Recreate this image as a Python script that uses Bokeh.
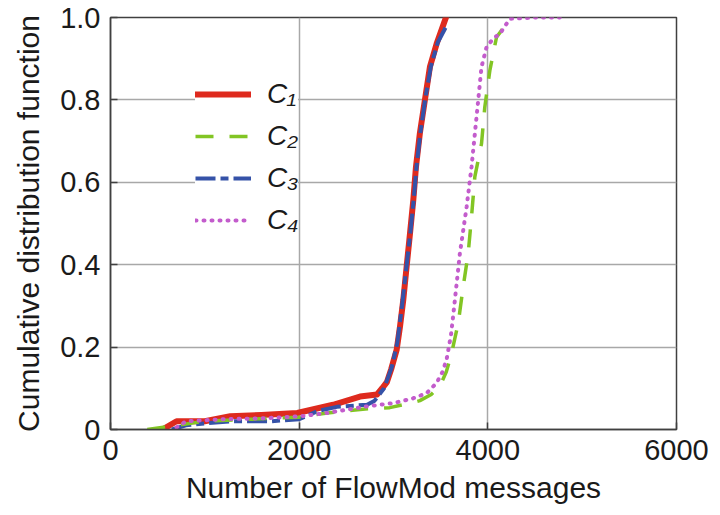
from bokeh.plotting import figure
from bokeh.models import FixedTicker, Range1d, Legend, LegendItem
from bokeh.embed import file_html
from bokeh.resources import INLINE

# ---- data ----
c1_x = [550, 700, 1000, 1270, 1600, 1980, 2360, 2645, 2825, 2880, 2930, 2975, 3034, 3069, 3104, 3139, 3175, 3210, 3238, 3280, 3333, 3386, 3457, 3556]
c1_y = [0.0, 0.02, 0.02, 0.032, 0.035, 0.04, 0.06, 0.08, 0.085, 0.10, 0.115, 0.146, 0.194, 0.25, 0.315, 0.395, 0.476, 0.557, 0.637, 0.72, 0.80, 0.88, 0.936, 1.0]

c2_x = [390, 700, 1000, 1500, 2000, 2300, 2700, 2960, 3200, 3280, 3400, 3492, 3560, 3616, 3686, 3739, 3792, 3827, 3862, 3933, 3968, 4021, 4092, 4150, 4233]
c2_y = [0.0, 0.01, 0.02, 0.025, 0.03, 0.04, 0.05, 0.053, 0.065, 0.07, 0.085, 0.105, 0.14, 0.185, 0.258, 0.347, 0.428, 0.516, 0.613, 0.694, 0.783, 0.871, 0.952, 0.97, 1.0]

c3_x = [650, 800, 1000, 1300, 1700, 2000, 2200, 2400, 2720, 2800, 2900, 2980, 3040, 3090, 3140, 3180, 3215, 3245, 3285, 3335, 3395, 3470, 3563]
c3_y = [0.0, 0.01, 0.015, 0.02, 0.02, 0.025, 0.045, 0.055, 0.06, 0.07, 0.10, 0.15, 0.21, 0.30, 0.40, 0.48, 0.56, 0.64, 0.72, 0.80, 0.88, 0.94, 0.98]

c4_x = [700, 800, 1200, 1600, 2011, 2293, 2500, 2716, 2998, 3200, 3351, 3457, 3520, 3563, 3610, 3651, 3704, 3775, 3827, 3880, 3933, 3986, 4060, 4127, 4233, 4500, 4762]
c4_y = [0.005, 0.02, 0.025, 0.027, 0.032, 0.04, 0.048, 0.056, 0.064, 0.075, 0.088, 0.113, 0.14, 0.17, 0.23, 0.315, 0.428, 0.54, 0.637, 0.758, 0.88, 0.928, 0.95, 0.96, 0.997, 1.0, 1.0]

series_names = ["C\u2081", "C\u2082", "C\u2083", "C\u2084"]

x_ticks = [0, 2000, 4000, 6000]
y_ticks = [0, 0.2, 0.4, 0.6, 0.8, 1.0]
y_tick_labels = ["0", "0.2", "0.4", "0.6", "0.8", "1.0"]

FONT = "Liberation Sans"
TXT = "#1a1a1a"

p = figure(width=720, height=515, output_backend="svg", toolbar_location=None,
           x_range=Range1d(0, 6000), y_range=Range1d(0, 1.0))
p.min_border_left = 110
p.min_border_right = 44
p.min_border_top = 17
p.min_border_bottom = 86
p.background_fill_color = "white"
p.border_fill_color = "white"
p.outline_line_color = "#404040"
p.outline_line_width = 1.5

# grid
for g in (p.xgrid[0], p.ygrid[0]):
    g.grid_line_color = "#a8a8a8"
    g.grid_line_width = 1.5
p.xgrid[0].ticker = FixedTicker(ticks=x_ticks)
p.ygrid[0].ticker = FixedTicker(ticks=y_ticks)

# axes
p.xaxis.ticker = FixedTicker(ticks=x_ticks)
p.yaxis.ticker = FixedTicker(ticks=y_ticks)
p.yaxis.major_label_overrides = {t: l for t, l in zip(y_ticks, y_tick_labels)}
p.xaxis.axis_label = "Number of FlowMod messages"
p.yaxis.axis_label = "Cumulative distribution function"
for ax in (p.xaxis[0], p.yaxis[0]):
    ax.axis_line_color = "#404040"
    ax.axis_line_width = 1.5
    ax.major_tick_in = 7
    ax.major_tick_out = 0
    ax.major_tick_line_color = "#404040"
    ax.major_tick_line_width = 1.5
    ax.minor_tick_line_color = None
    ax.major_label_text_font = FONT
    ax.major_label_text_font_size = "29px"
    ax.major_label_text_color = TXT
    ax.axis_label_text_font = FONT
    ax.axis_label_text_font_size = "30px"
    ax.axis_label_text_font_style = "normal"
    ax.axis_label_text_color = TXT
p.xaxis.major_label_standoff = 10
p.xaxis.axis_label_standoff = 8
p.yaxis.major_label_standoff = 10
p.yaxis.axis_label_standoff = 12

r1 = p.line(c1_x, c1_y, line_color="#de2a1e", line_width=6, line_join="round", line_cap="round")
r3 = p.line(c3_x, c3_y, line_color="#3552a8", line_width=4, line_dash="20 5 8 5")
r2 = p.line(c2_x, c2_y, line_color="#82c524", line_width=3.5, line_dash="18 16")
r4 = p.line(c4_x, c4_y, line_color="#c35ccc", line_width=4, line_dash="1 7", line_cap="round")

legend = Legend(items=[
    LegendItem(label=series_names[0], renderers=[r1]),
    LegendItem(label=series_names[1], renderers=[r2]),
    LegendItem(label=series_names[2], renderers=[r3]),
    LegendItem(label=series_names[3], renderers=[r4]),
], location=(85, 193))
legend.border_line_color = None
legend.background_fill_color = "white"
legend.background_fill_alpha = 1.0
legend.label_text_font = FONT
legend.label_text_font_size = "28px"
legend.label_text_font_style = "italic"
legend.label_text_color = TXT
legend.glyph_width = 56
legend.glyph_height = 30
legend.label_height = 30
legend.spacing = 10
legend.padding = 10
legend.margin = 0
legend.label_standoff = 16
p.add_layout(legend, "center")

open("out.html", "w").write(file_html(p, INLINE))
